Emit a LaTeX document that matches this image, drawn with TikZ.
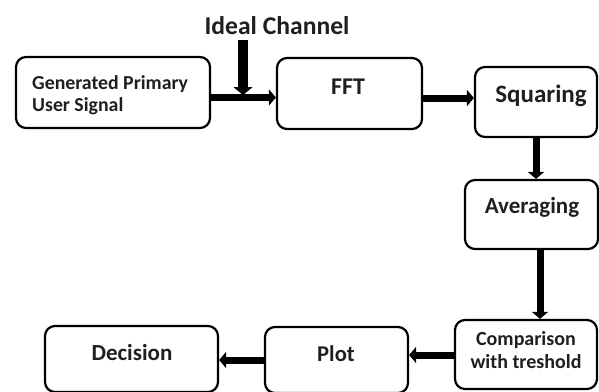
\documentclass[tikz,border=0pt]{standalone}
\usepackage{fontspec}
\setmainfont{Carlito}
\usetikzlibrary{arrows.meta}
\tikzset{
  box/.style={draw=black, line width=2.2pt, rounded corners=10pt, inner sep=0pt, minimum width=#1},
  lbl/.style={inner sep=0pt, text=black!88},
  flow/.style={line width=7pt, -{Triangle[length=7pt, width=16pt]}},
  bigflow/.style={line width=10pt, -{Triangle[length=8pt, width=19pt]}},
}
\begin{document}
\begin{tikzpicture}[x=1pt, y=-1pt]
\useasboundingbox (0,0) rectangle (599,391);
% boxes
\node[box=194pt, minimum height=71pt] (gen) at (113,92.5) {};
\node[box=145pt, minimum height=71pt] (fft) at (349.5,93.5) {};
\node[box=122pt, minimum height=70pt] (sq) at (536,102) {};
\node[box=133pt, minimum height=69pt] (avg) at (531.5,214.5) {};
\node[box=142pt, minimum height=69pt] (cmp) at (526,354.5) {};
\node[box=143pt, minimum height=66pt] (plot) at (336.5,360) {};
\node[box=173pt, minimum height=66pt] (dec) at (131.5,359) {};
% labels
\node[lbl, font=\bfseries\fontsize{19.8}{22}\selectfont, align=left, anchor=west] (genl) at (32,95) {Generated Primary\\User Signal};
\node[lbl, font=\bfseries\fontsize{24}{26}\selectfont] (fftl) at (348,87) {FFT};
\node[lbl, font=\bfseries\fontsize{25}{28}\selectfont] (sql) at (541,96) {Squaring};
\node[lbl, font=\bfseries\fontsize{23}{26}\selectfont] (avgl) at (532,207) {Averaging};
\node[lbl, font=\bfseries\fontsize{20}{23}\selectfont, align=center] (cmpl) at (526,350) {Comparison\\with treshold};
\node[lbl, font=\bfseries\fontsize{22.6}{26}\selectfont] (plotl) at (336,354) {Plot};
\node[lbl, font=\bfseries\fontsize{23}{26}\selectfont] (decl) at (132,353) {Decision};
\node[lbl, font=\bfseries\fontsize{25.6}{30}\selectfont] (ideal) at (277,26) {Ideal Channel};
% connectors
\coordinate (chtop) at (243,40);
\draw[flow] (gen.east |- 0,97.5) -- (fft.west |- 0,97.5);
\draw[bigflow] (chtop) -- (chtop |- 0,95);
\draw[flow] (fft.east |- 0,98) -- (sq.west |- 0,98);
\draw[flow] (sq.south -| 536,0) -- (avg.north -| 536,0);
\draw[flow] (avg.south -| 540,0) -- (cmp.north -| 540,0);
\draw[flow] (cmp.west |- 0,355) -- (plot.east |- 0,355);
\draw[flow] (plot.west |- 0,360) -- (dec.east |- 0,360);
\end{tikzpicture}
\end{document}
